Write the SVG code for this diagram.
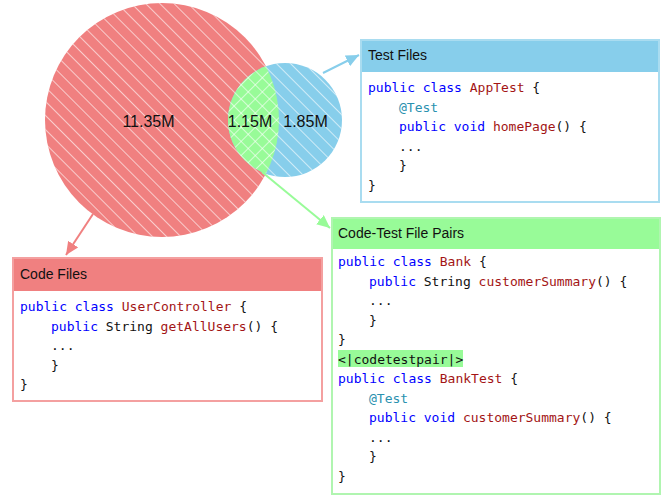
<svg xmlns="http://www.w3.org/2000/svg" width="667" height="497" viewBox="0 0 667 497">
<style>
.lbl{font-family:"Liberation Sans",Arial,sans-serif;font-size:16px;fill:#111;text-anchor:middle}
.hdr{font-family:"Liberation Sans",Arial,sans-serif;font-size:14px;fill:#111}
.code{font-family:"DejaVu Sans Mono","Liberation Mono",monospace;font-size:13px;fill:#111}
.kw{fill:#0000ff}
.nm{fill:#a31515}
.an{fill:#2b91af}
.hatch{stroke:#fff;stroke-opacity:0.6;stroke-width:1}
</style>
<defs>
<pattern id="hatch1" patternUnits="userSpaceOnUse" width="10" height="10" patternTransform="rotate(-45)">
<line class="hatch" x1="0.5" y1="0" x2="0.5" y2="10"/>
</pattern>
<pattern id="hatch2" patternUnits="userSpaceOnUse" width="10" height="10" patternTransform="rotate(45)">
<line class="hatch" x1="0.5" y1="0" x2="0.5" y2="10"/>
</pattern>
<clipPath id="redClip"><circle cx="162" cy="120" r="117"/></clipPath>
<marker id="ahR" markerUnits="userSpaceOnUse" markerWidth="14" markerHeight="12" refX="13" refY="6" orient="auto"><path d="M0,0 L13,6 L0,12 z" fill="#f08080"/></marker>
<marker id="ahB" markerUnits="userSpaceOnUse" markerWidth="14" markerHeight="12" refX="13" refY="6" orient="auto"><path d="M0,0 L13,6 L0,12 z" fill="#87ceeb"/></marker>
<marker id="ahG" markerUnits="userSpaceOnUse" markerWidth="14" markerHeight="12" refX="13" refY="6" orient="auto"><path d="M0,0 L13,6 L0,12 z" fill="#98fb98"/></marker>
</defs>
<rect width="667" height="497" fill="#fff"/>

<g id="venn-code">
<circle cx="162" cy="120" r="117" fill="#f08080"/>
<circle cx="162" cy="120" r="117" fill="url(#hatch1)"/>
</g>
<g id="venn-test">
<circle cx="285" cy="120" r="57" fill="#87ceeb"/>
<circle cx="285" cy="120" r="57" fill="url(#hatch1)"/>
</g>
<g id="venn-pairs">
<circle cx="285" cy="120" r="57" fill="#98fb98" clip-path="url(#redClip)"/>
<circle cx="285" cy="120" r="57" fill="url(#hatch1)" clip-path="url(#redClip)"/>
<circle cx="285" cy="120" r="57" fill="url(#hatch2)" clip-path="url(#redClip)"/>
</g>
<g id="venn-labels">
<text class="lbl" x="148.5" y="127">11.35M</text>
<text class="lbl" x="250" y="127">1.15M</text>
<text class="lbl" x="305.5" y="127">1.85M</text>
</g>

<g id="connectors" fill="none" stroke-width="2">
<line x1="93" y1="214" x2="66" y2="255" stroke="#f08080" marker-end="url(#ahR)"/>
<line x1="323" y1="73" x2="359" y2="55" stroke="#87ceeb" marker-end="url(#ahB)"/>
<line x1="262" y1="172" x2="330" y2="228" stroke="#98fb98" marker-end="url(#ahG)"/>
</g>

<g id="test-files">
<rect x="361" y="40" width="298" height="162" fill="#fff" stroke="#a9dcf0" stroke-width="2"/>
<rect x="362" y="41" width="296" height="31" fill="#87ceeb"/>
<text class="hdr" x="368" y="60">Test Files</text>
<text class="code" x="368" y="92"><tspan class="kw">public class </tspan><tspan class="nm">AppTest</tspan> {</text>
<text class="code" x="399" y="111.5"><tspan class="an">@Test</tspan></text>
<text class="code" x="399" y="131"><tspan class="kw">public void </tspan><tspan class="nm">homePage</tspan>() {</text>
<text class="code" x="399" y="150.5">...</text>
<text class="code" x="399" y="170">}</text>
<text class="code" x="368" y="189.5">}</text>
</g>

<g id="code-test-pairs">
<rect x="332" y="218" width="328" height="276" fill="#fff" stroke="#b0f5b0" stroke-width="2"/>
<rect x="333" y="219" width="326" height="30" fill="#98fb98"/>
<text class="hdr" x="338" y="238">Code-Test File Pairs</text>
<rect x="338" y="350" width="125" height="17" fill="#98fb98"/>
<text class="code" x="338" y="266"><tspan class="kw">public class </tspan><tspan class="nm">Bank</tspan> {</text>
<text class="code" x="369" y="285.5"><tspan class="kw">public </tspan>String <tspan class="nm">customerSummary</tspan>() {</text>
<text class="code" x="369" y="305">...</text>
<text class="code" x="369" y="324.5">}</text>
<text class="code" x="338" y="344">}</text>
<text class="code" x="338" y="363.5">&lt;|codetestpair|&gt;</text>
<text class="code" x="338" y="383"><tspan class="kw">public class </tspan><tspan class="nm">BankTest</tspan> {</text>
<text class="code" x="369" y="402.5"><tspan class="an">@Test</tspan></text>
<text class="code" x="369" y="422"><tspan class="kw">public void </tspan><tspan class="nm">customerSummary</tspan>() {</text>
<text class="code" x="369" y="441.5">...</text>
<text class="code" x="369" y="461">}</text>
<text class="code" x="338" y="480.5">}</text>
</g>

<g id="code-files">
<rect x="13" y="258" width="309" height="143" fill="#fff" stroke="#f4a0a0" stroke-width="2"/>
<rect x="14" y="259" width="307" height="32" fill="#f08080"/>
<text class="hdr" x="20" y="279">Code Files</text>
<text class="code" x="20" y="311"><tspan class="kw">public class </tspan><tspan class="nm">UserController</tspan> {</text>
<text class="code" x="51" y="330.5"><tspan class="kw">public </tspan>String <tspan class="nm">getAllUsers</tspan>() {</text>
<text class="code" x="51" y="350">...</text>
<text class="code" x="51" y="369.5">}</text>
<text class="code" x="20" y="389">}</text>
</g>
</svg>
